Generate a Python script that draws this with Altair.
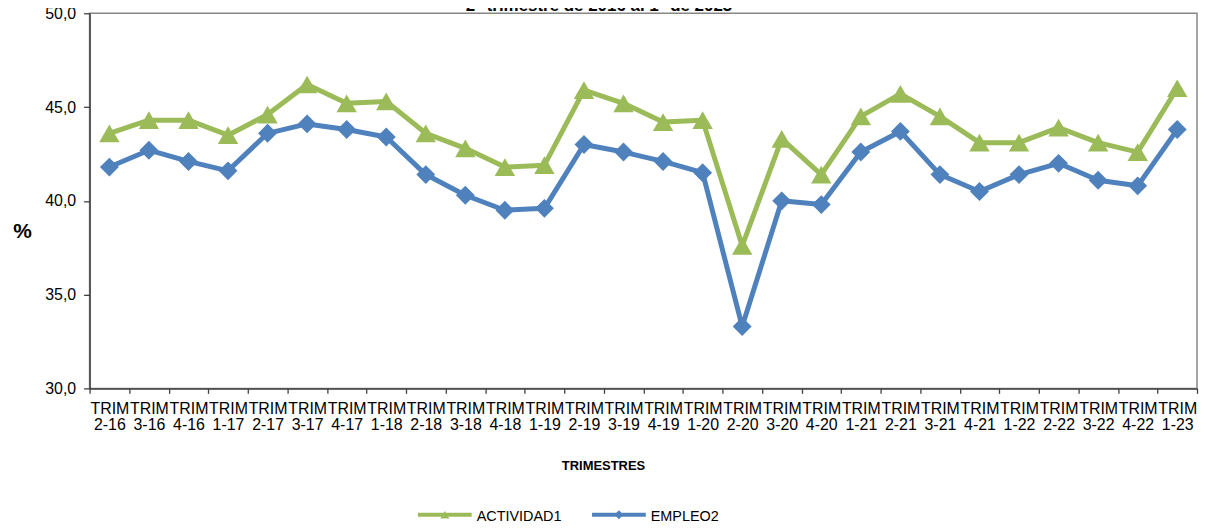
import altair as alt
import pandas as pd

trimestres = ["2-16", "3-16", "4-16", "1-17", "2-17", "3-17", "4-17", "1-18",
              "2-18", "3-18", "4-18", "1-19", "2-19", "3-19", "4-19", "1-20",
              "2-20", "3-20", "4-20", "1-21", "2-21", "3-21", "4-21", "1-22",
              "2-22", "3-22", "4-22", "1-23"]
actividad = [43.6, 44.3, 44.3, 43.5, 44.6, 46.2, 45.2, 45.3,
             43.6, 42.8, 41.8, 41.9, 45.9, 45.2, 44.2, 44.3,
             37.6, 43.3, 41.4, 44.5, 45.7, 44.5, 43.1, 43.1,
             43.9, 43.1, 42.6, 46.0]
empleo = [41.8, 42.7, 42.1, 41.6, 43.6, 44.1, 43.8, 43.4,
          41.4, 40.3, 39.5, 39.6, 43.0, 42.6, 42.1, 41.5,
          33.3, 40.0, 39.8, 42.6, 43.7, 41.4, 40.5, 41.4,
          42.0, 41.1, 40.8, 43.8]
series_names = ["ACTIVIDAD1", "EMPLEO2"]
colors = ["#9BBB59", "#4F81BD"]
shapes = ["triangle-up", "diamond"]
y_ticks = [30, 35, 40, 45, 50]
titulo = "2° trimestre de 2016 al 1° de 2023"

n = len(trimestres)
df = pd.DataFrame({
    "trim": trimestres * 2,
    "serie": [series_names[0]] * n + [series_names[1]] * n,
    "valor": actividad + empleo,
})

FONT = "Liberation Sans"
W, H = 1113, 377

x_enc = alt.X(
    "trim:N", sort=trimestres,
    scale=alt.Scale(type="band", paddingInner=0, paddingOuter=0),
    axis=alt.Axis(
        tickBand="extent", labelAngle=0,
        labelExpr="isValid(datum.value) && datum.value != '' ? ['TRIM', datum.value] : ''",
        labelLineHeight=16, labelFontSize=16, labelFont=FONT, labelColor="#000000",
        labelPadding=7, labelBaseline="top",
        tickSize=5, tickColor="#404040", tickWidth=1.3,
        domainColor="#404040", domainWidth=1.5,
        grid=False,
        title="TRIMESTRES", titleFont=FONT, titleFontSize=13, titleFontWeight="bold",
        titleColor="#000000", titleX=516, titleY=82, titleAlign="center",
        titleBaseline="alphabetic", titleAnchor="start",
    ),
)
y_enc = alt.Y(
    "valor:Q",
    scale=alt.Scale(domain=[30, 50], nice=False, zero=False),
    axis=alt.Axis(
        values=y_ticks,
        labelExpr="replace(format(datum.value, '.1f'), '.', ',')",
        labelFontSize=16, labelFont=FONT, labelColor="#000000", labelPadding=8,
        tickSize=6, tickColor="#404040", tickWidth=1.3,
        domainColor="#404040", domainWidth=1.5,
        grid=False,
        title="%", titleAngle=0, titleFont=FONT, titleFontSize=21, titleFontWeight="bold",
        titleColor="#000000", titleX=-68, titleY=219, titleAlign="center",
        titleBaseline="middle", titleAnchor="start",
    ),
)

base = alt.Chart(df)
layers = []
for i, s in enumerate(series_names):
    sub = base.transform_filter(alt.datum.serie == s)
    layers.append(
        sub.mark_line(strokeWidth=5, color=colors[i], strokeJoin="round").encode(x=x_enc, y=y_enc)
    )
    layers.append(
        sub.mark_point(filled=True, opacity=1, size=420 if i == 0 else 360,
                       shape=shapes[i], color=colors[i]).encode(x=x_enc, y=y_enc)
    )

# custom legend (line + marker + label)
legend_x0 = [330, 505]
legend_len = 54
legend_y = 504
for i, s in enumerate(series_names):
    ld = alt.Chart(alt.Data(values=[{"serie": s}]))
    layers.append(ld.mark_rule(strokeWidth=4, color=colors[i]).encode(
        x=alt.value(legend_x0[i]), x2=alt.value(legend_x0[i] + legend_len), y=alt.value(legend_y)))
    layers.append(ld.mark_point(filled=True, opacity=1, size=80, shape=shapes[i], color=colors[i]).encode(
        x=alt.value(legend_x0[i] + legend_len / 2), y=alt.value(legend_y)))
    layers.append(ld.mark_text(align="left", baseline="alphabetic", font=FONT, fontSize=14.5,
                               color="#000000").encode(
        x=alt.value(legend_x0[i] + legend_len + 5), y=alt.value(legend_y + 6), text="serie:N"))

# title (cut at the top, as in the original)
layers.append(alt.Chart(alt.Data(values=[{"t": titulo}])).mark_text(
    align="center", baseline="alphabetic", font=FONT, fontSize=17, fontWeight="bold",
    color="#000000").encode(x=alt.value(512), y=alt.value(-2), text="t:N"))

chart = alt.layer(*layers).properties(
    width=W, height=H,
    autosize=alt.AutoSizeParams(type="none"),
    padding={"left": 82, "top": 4, "right": 2, "bottom": 135},
    background="white",
).configure_view(stroke="#868686", strokeWidth=1.5)

chart.save("out.html", embed_options={"renderer": "svg", "actions": False})
